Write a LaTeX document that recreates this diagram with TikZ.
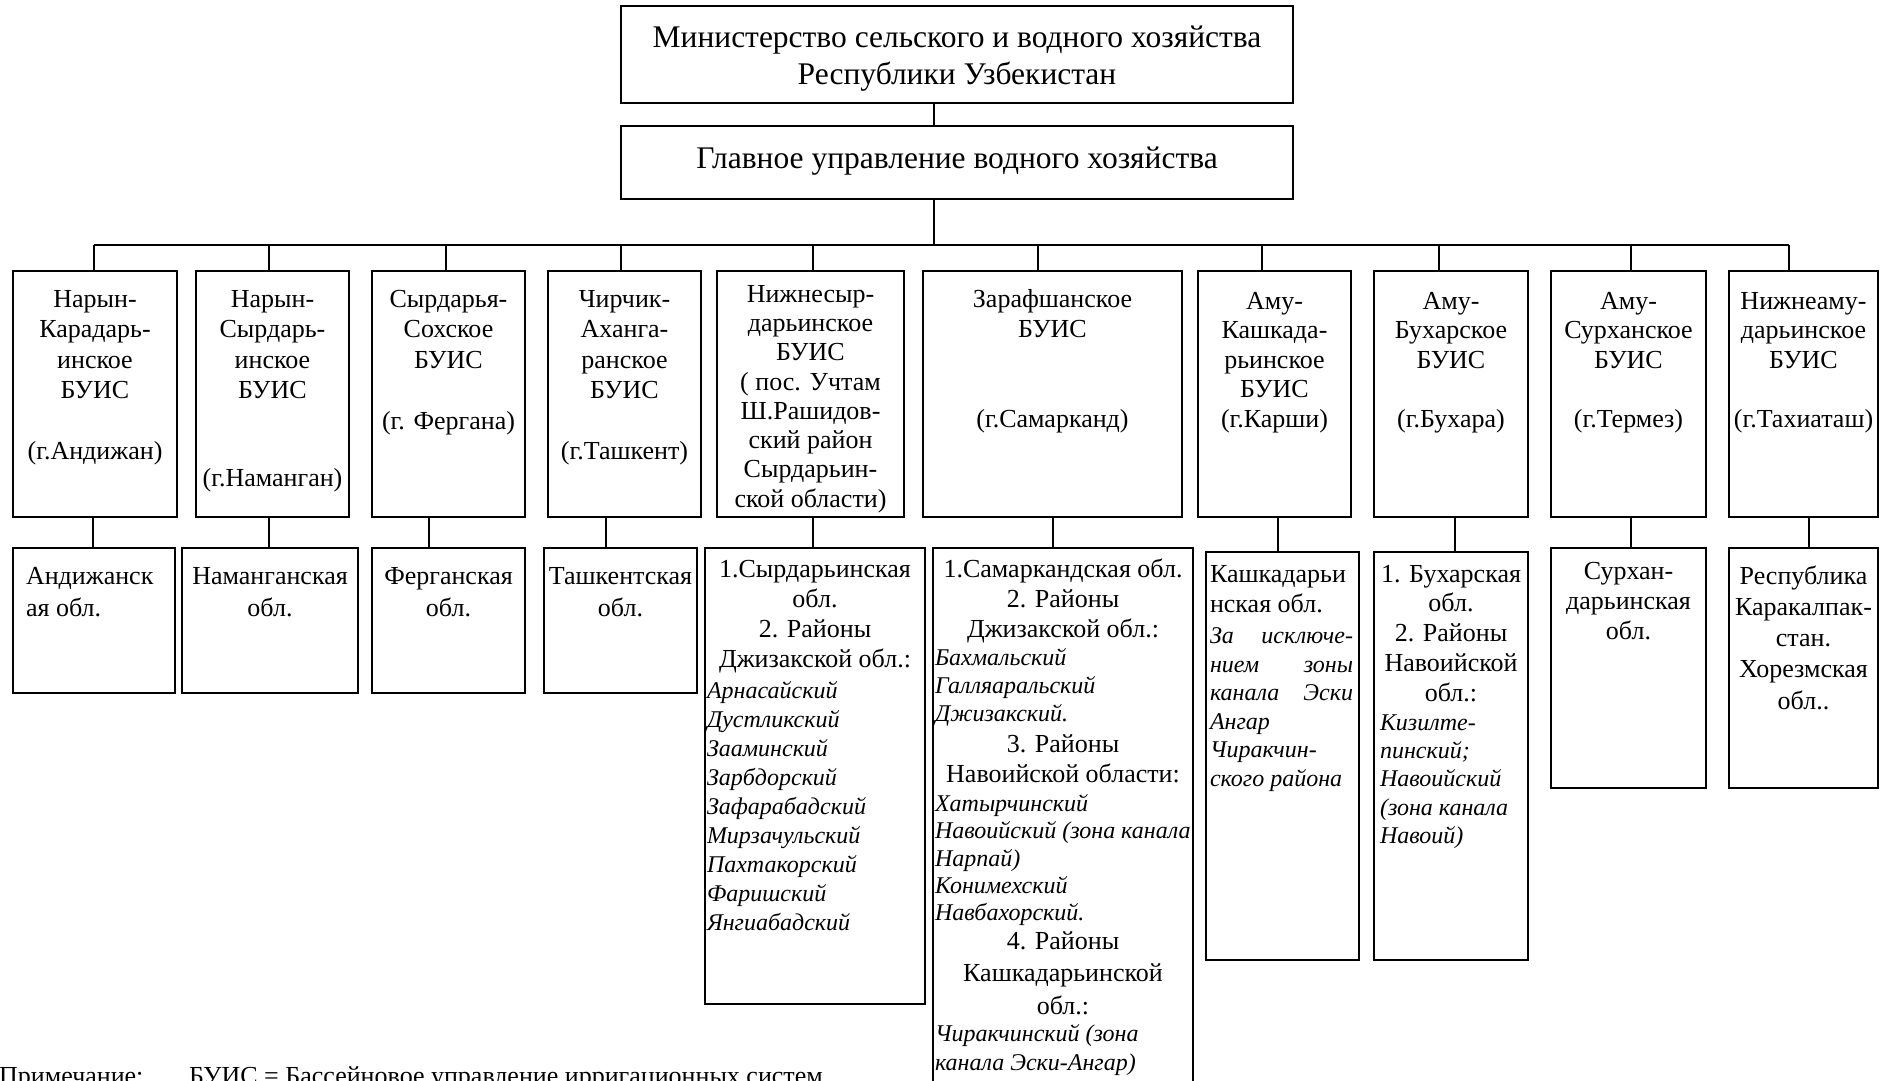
\documentclass[tikz,border=0pt]{standalone}
\usepackage{fontspec}
\setmainfont{Liberation Serif}
\newcommand\setfs[2]{\fontsize{#1}{#2}\selectfont}
\begin{document}
\begin{tikzpicture}[x=1pt,y=-1pt,
  box/.style={draw, line width=1.7pt, inner sep=0pt, outer sep=0pt},
  conn/.style={line width=1.3pt},
  busline/.style={line width=1.7pt},
  tx/.style={inner sep=0pt, outer sep=0pt, anchor=north, align=center},
  txl/.style={inner sep=0pt, outer sep=0pt, anchor=north west, align=left},
  f26/.style={font={\setfs{26}{#1}}},
  fit24/.style={font={\setfs{24}{#1}\itshape}}]
\useasboundingbox (0,0) rectangle (1883,1081);

% level 1
\node[box, minimum width=672pt, minimum height=97pt] (min) at (957,54.5) {};
\node[tx, font={\setfs{31.5}{37.5}}] (mint) at (957,20.8) {\strut Министерство сельского и водного хозяйства\\Республики Узбекистан};
\node[box, minimum width=672pt, minimum height=73pt] (glav) at (957,162.5) {};
\node[tx, font={\setfs{31.5}{37.5}}] (glavt) at (957,141.8) {\strut Главное управление водного хозяйства};

\coordinate (xm) at (934,0);
\coordinate (busL) at (94,245);
\coordinate (busR) at (1789,245);
\draw[conn] (min.south -| xm) -- (glav.north -| xm);
\draw[conn] (glav.south -| xm) -- (xm |- busL);
\draw[busline] (busL) -- (busR);

% level 2 boxes
\foreach \n/\cx/\w in {1/95/164, 2/272.5/153, 3/448.5/153, 4/624.5/153, 5/810.5/187,
  6/1052.5/259, 7/1274.5/153, 8/1451/154, 9/1628.5/155, 10/1803.5/149}
  {\node[box, minimum width=\w pt, minimum height=246pt] (b\n) at (\cx,394) {};}

% level 3 boxes
\node[box, minimum width=162pt, minimum height=145pt] (c1) at (94,620.5) {};
\node[box, minimum width=176pt, minimum height=145pt] (c2) at (270,620.5) {};
\node[box, minimum width=153pt, minimum height=145pt] (c3) at (448.5,620.5) {};
\node[box, minimum width=153pt, minimum height=145pt] (c4) at (620.5,620.5) {};
\node[box, minimum width=220pt, minimum height=456pt] (c5) at (815,776) {};
\node[box, minimum width=260pt, minimum height=552pt] (c6) at (1063,824) {};
\node[box, minimum width=153pt, minimum height=408pt] (c7) at (1282.5,756) {};
\node[box, minimum width=154pt, minimum height=408pt] (c8) at (1451,756) {};
\node[box, minimum width=155pt, minimum height=240pt] (c9) at (1628.5,668) {};
\node[box, minimum width=149pt, minimum height=240pt] (c10) at (1803.5,668) {};

% drops from bus
\foreach \n/\x in {1/94, 2/269, 3/446, 4/621, 5/813, 6/1038, 7/1262, 8/1439, 9/1631, 10/1789}
  {\coordinate (d\n) at (\x,245); \draw[conn] (d\n) -- (d\n |- b\n.north);}
% level 2 -> level 3
\foreach \n/\x in {1/93, 2/269, 3/429, 4/606, 5/813, 6/1053, 7/1278, 8/1455, 9/1631, 10/1809}
  {\coordinate (e\n) at (\x,0); \draw[conn] (b\n.south -| e\n) -- (c\n.north -| e\n);}

% level 2 texts
\node[tx, f26=30.5] (b1t) at (95,285.75) {\strut Нарын-\\Карадарь-\\инское\\БУИС};
\node[tx, f26=30] (b1c) at (95,438.1) {\strut (г.Андижан)};
\node[tx, f26=30.5] (b2t) at (272.5,285.75) {\strut Нарын-\\Сырдарь-\\инское\\БУИС};
\node[tx, f26=30] (b2c) at (272.5,465.1) {\strut (г.Наманган)};
\node[tx, f26=30.5] (b3t) at (448.5,285.75) {\strut Сырдарья-\\Сохское\\БУИС};
\node[tx, f26=30] (b3c) at (448.5,408.1) {\strut (г. Фергана)};
\node[tx, f26=30.5] (b4t) at (624.5,285.75) {\strut Чирчик-\\Аханга-\\ранское\\БУИС};
\node[tx, f26=30] (b4c) at (624.5,438.1) {\strut (г.Ташкент)};
\node[tx, f26=29.3] (b5t) at (810.5,281.6) {\strut Нижнесыр-\\дарьинское\\БУИС\\( пос. Учтам\\Ш.Рашидов-\\ский район\\Сырдарьин-\\ской области)};
\node[tx, f26=30] (b6t) at (1052.5,286.1) {\strut Зарафшанское\\БУИС};
\node[tx, f26=30] (b6c) at (1052.5,406.1) {\strut (г.Самарканд)};
\node[tx, f26=29.5] (b7t) at (1274.5,288.5) {\strut Аму-\\Кашкада-\\рьинское\\БУИС\\(г.Карши)};
\node[tx, f26=29.5] (b8t) at (1451,288.5) {\strut Аму-\\Бухарское\\БУИС};
\node[tx, f26=29.5] (b8c) at (1451,406.5) {\strut (г.Бухара)};
\node[tx, f26=29.5] (b9t) at (1628.5,288.5) {\strut Аму-\\Сурханское\\БУИС};
\node[tx, f26=29.5] (b9c) at (1628.5,406.5) {\strut (г.Термез)};
\node[tx, f26=29.5] (b10t) at (1803.5,288.5) {\strut Нижнеаму-\\дарьинское\\БУИС};
\node[tx, f26=29.5] (b10c) at (1803.5,406.5) {\strut (г.Тахиаташ)};

% level 3 texts
\node[txl, f26=32.5] (c1t) at (26,561.35) {\strut Андижанск\\ая обл.};
\node[tx, f26=32.5] (c2t) at (270,561.35) {\strut Наманганская\\обл.};
\node[tx, f26=32.5] (c3t) at (448.5,561.35) {\strut Ферганская\\обл.};
\node[tx, f26=32.5] (c4t) at (620.5,561.35) {\strut Ташкентская\\обл.};

\node[tx, f26=30] (c5a) at (815,556.1) {\strut 1.Сырдарьинская\\обл.\\2. Районы\\Джизакской обл.:};
\node[txl, fit24=29] (c5b) at (707,678.1) {\strut Арнасайский\\Дустликский\\Зааминский\\Зарбдорский\\Зафарабадский\\Мирзачульский\\Пахтакорский\\Фаришский\\Янгиабадский};

\node[tx, f26=30] (c6a) at (1063,556.1) {\strut 1.Самаркандская обл.\\2. Районы\\Джизакской обл.:};
\node[txl, fit24=28] (c6b) at (935,645.8) {\strut Бахмальский\\Галляаральский\\Джизакский.};
\node[tx, f26=30] (c6c) at (1063,731.1) {\strut 3. Районы\\Навоийской области:};
\node[txl, fit24=27.3] (c6d) at (935,792.3) {\strut Хатырчинский\\Навоийский (зона канала\\Нарпай)\\Конимехский\\Навбахорский.};
\node[tx, f26=32.5] (c6e) at (1063,926.35) {\strut 4. Районы\\Кашкадарьинской\\обл.:};
\node[txl, fit24=29] (c6f) at (935,1021.1) {\strut Чиракчинский (зона\\канала Эски-Ангар)};

\node[txl, f26=30] (c7a) at (1210,561.1) {\strut Кашкадарьи\\нская обл.};
\node[txl, fit24=28.6] (c7b) at (1210,623.4) {\strut\makebox[143pt][s]{За\hfill исключе-}\\\makebox[143pt][s]{нием\hfill зоны}\\\makebox[143pt][s]{канала\hfill Эски}\\Ангар\\Чиракчин-\\ского района};

\node[tx, f26=29.75] (c8a) at (1451,561.3) {\strut 1. Бухарская\\обл.\\2. Районы\\Навоийской\\обл.:};
\node[txl, fit24=28.25] (c8b) at (1380,710.6) {\strut Кизилте-\\пинский;\\Навоийский\\(зона канала\\Навоий)};

\node[tx, f26=30] (c9t) at (1628.5,558.1) {\strut Сурхан-\\дарьинская\\обл.};
\node[tx, f26=31.25] (c10t) at (1803.5,562.2) {\strut Республика\\Каракалпак-\\стан.\\Хорезмская\\обл..};

% note
\node[inner sep=0pt, anchor=base west, font={\setfs{26}{30}}] (note1) at (-1,1084) {Примечание:};
\node[inner sep=0pt, anchor=base west, font={\setfs{26}{30}}] (note2) at (189,1084) {БУИС = Бассейновое управление ирригационных систем};
\end{tikzpicture}
\end{document}
